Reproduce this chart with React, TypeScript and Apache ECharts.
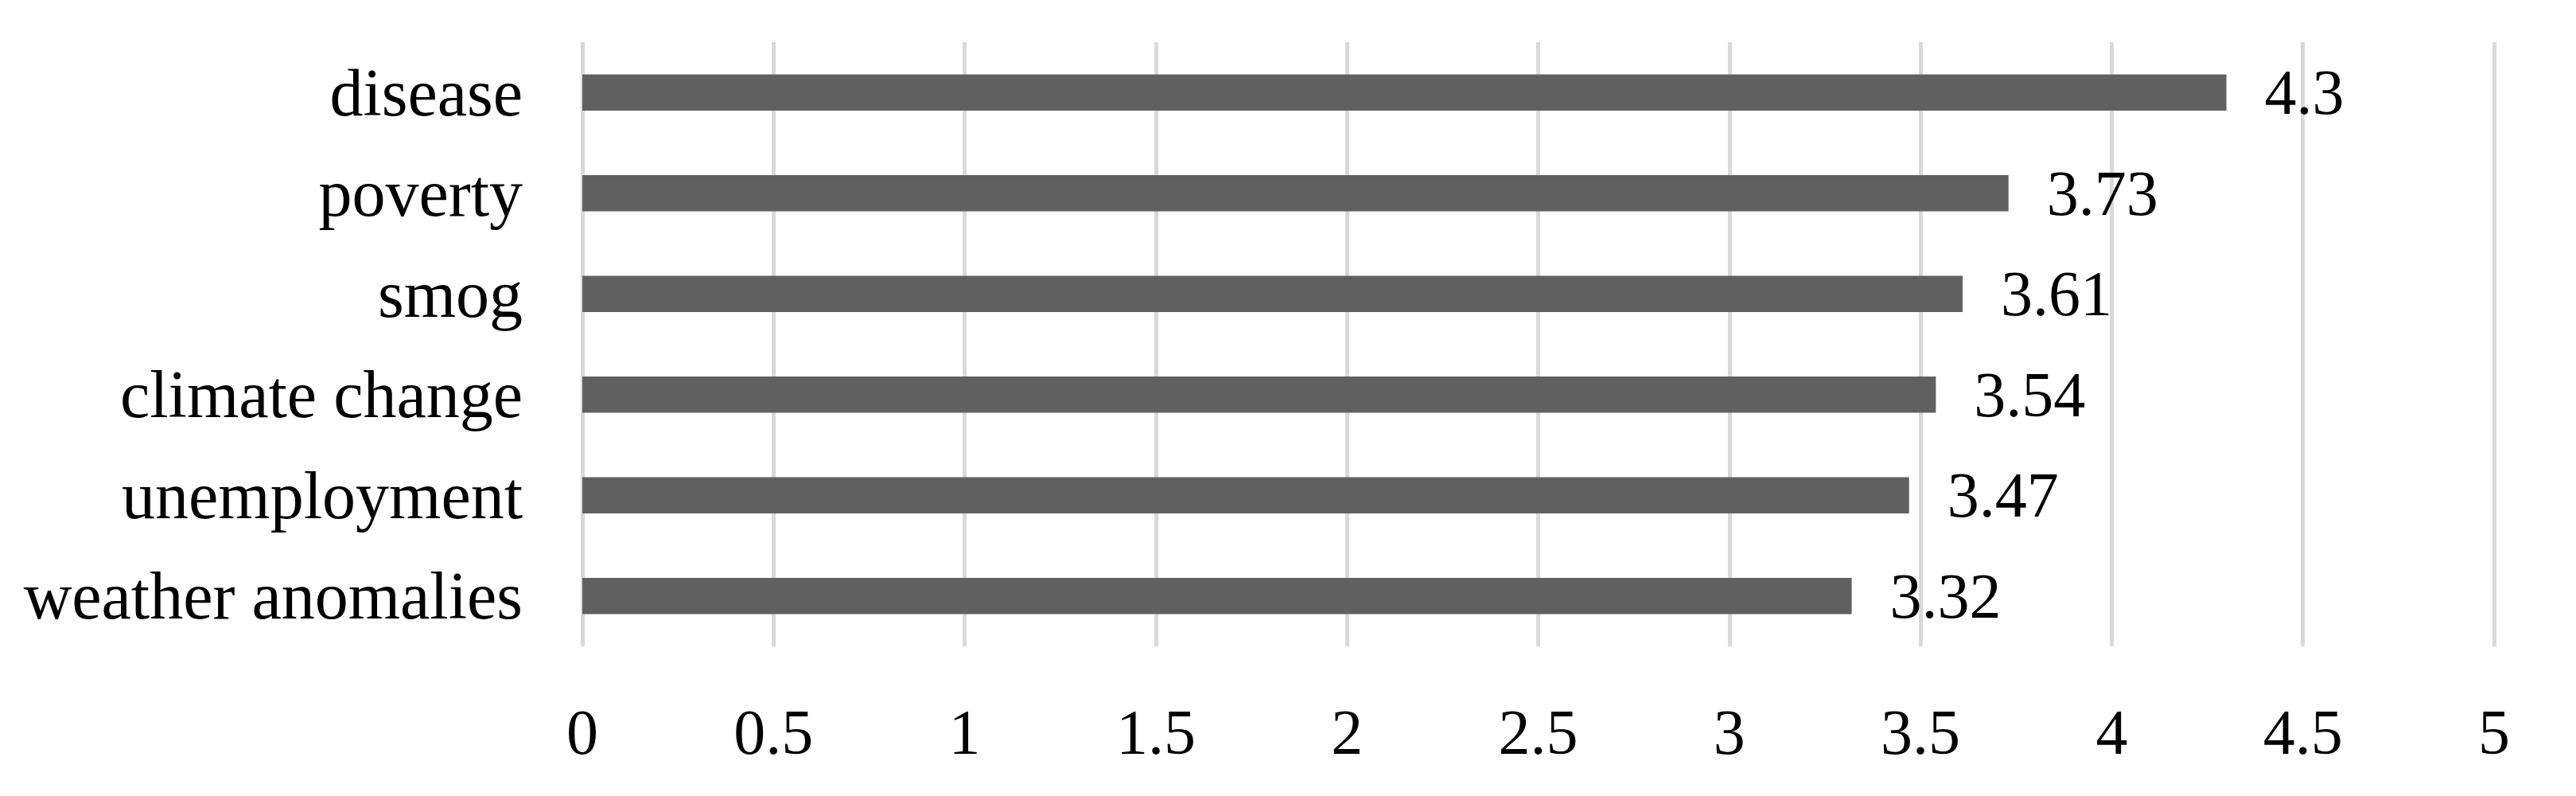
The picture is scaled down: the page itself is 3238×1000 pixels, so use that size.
import React, { useEffect, useRef } from "react";
import * as echarts from "echarts";

const categories = ["disease", "poverty", "smog", "climate change", "unemployment", "weather anomalies"];
const values = [4.3, 3.73, 3.61, 3.54, 3.47, 3.32];

const FONT = "'Liberation Serif', 'Times New Roman', serif";

export default function App() {
  const ref = useRef<HTMLDivElement>(null);
  useEffect(() => {
    document.body.style.margin = "0";
    const chart = echarts.init(ref.current!, undefined, { renderer: "svg" });
    chart.setOption({
      animation: false,
      backgroundColor: "#ffffff",
      grid: { left: 732, right: 103, top: 53, bottom: 188, containLabel: false },
      xAxis: {
        type: "value",
        min: 0,
        max: 5,
        interval: 0.5,
        axisLine: { show: false },
        axisTick: { show: false },
        splitLine: { show: true, lineStyle: { color: "#d9d9d9", width: 5 } },
        axisLabel: { color: "#000", fontFamily: FONT, fontSize: 80, margin: 68 },
      },
      yAxis: {
        type: "category",
        data: categories,
        inverse: true,
        axisLine: { show: false },
        axisTick: { show: false },
        splitLine: { show: false },
        axisLabel: { color: "#000", fontFamily: FONT, fontSize: 84, margin: 75 },
      },
      series: [
        {
          type: "bar",
          data: values,
          barWidth: "36%",
          itemStyle: { color: "#606060" },
          label: {
            show: true,
            position: "right",
            distance: 48,
            color: "#000",
            fontFamily: FONT,
            fontSize: 80,
          },
        },
      ],
    });
    return () => chart.dispose();
  }, []);
  return <div ref={ref} style={{ width: 3238, height: 1000 }} />;
}
